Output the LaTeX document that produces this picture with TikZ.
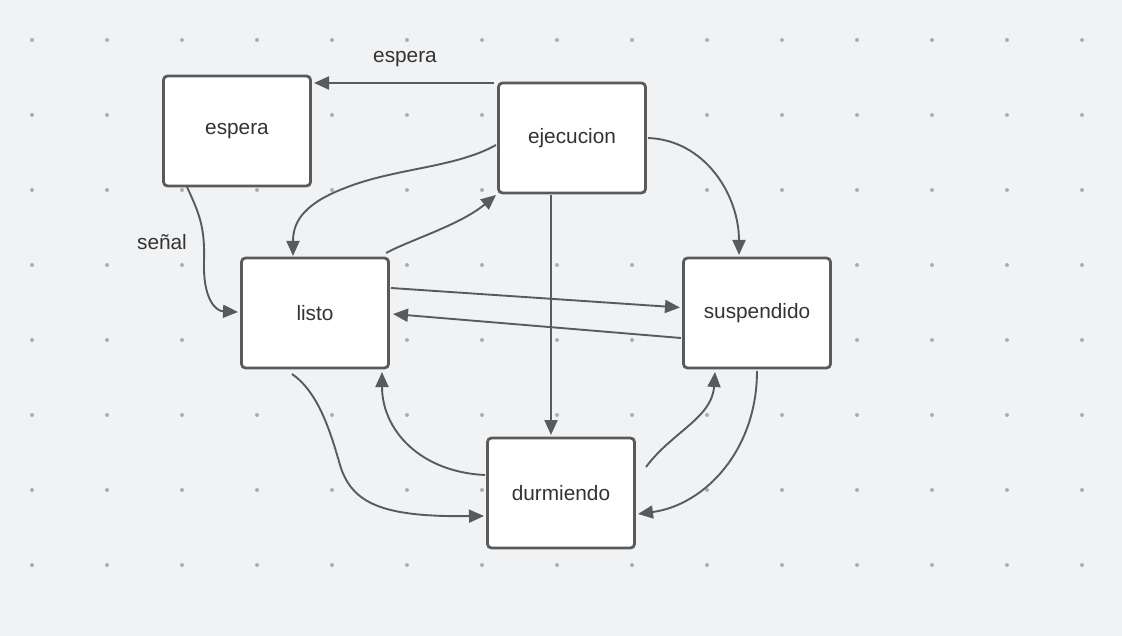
\documentclass[tikz,border=0pt]{standalone}
\usepackage{fontspec}
\setmainfont{Liberation Sans}
\usetikzlibrary{arrows.meta,calc}
\definecolor{bg}{HTML}{F1F2F4}
\definecolor{dotc}{HTML}{ABADB1}
\definecolor{linec}{HTML}{595A5C}
\definecolor{txt}{HTML}{333333}
\begin{document}
\begin{tikzpicture}[x=1pt,y=-1pt,
  state/.style={draw=linec,fill=white,line width=2.8pt,rounded corners=4pt,
    minimum width=147pt,minimum height=110pt,inner sep=0pt,text=txt,
    font=\fontsize{20.8}{24}\selectfont},
  conn/.style={draw=linec,line width=1.9pt,-{Triangle[length=15pt,width=13pt]}},
  lbl/.style={text=txt,font=\fontsize{20.8}{24}\selectfont,inner sep=0pt}]
\fill[bg] (0,0) rectangle (1122,636);
\useasboundingbox (0,0) rectangle (1122,636);
\foreach \i in {0,...,14}{
  \foreach \j in {0,...,7}{
    \fill[dotc] (32+75*\i,40+75*\j) circle (2pt);
  }
}
\node[state] (espera) at (237,131) {espera};
\node[state] (ejec) at (572,138) {ejecucion};
\node[state] (listo) at (315,313) {listo};
\node[state] (susp) at (757,313) {suspendido};
\node[state] (durm) at (561,493) {durmiendo};
% 1 ejecucion -> espera
\draw[conn] ($(ejec)+(-78,-55)$) -- ($(espera)+(77,-48)$);
\node[lbl] (lesp) at (405,59.5) {espera};
% 2 espera -> listo (senal)
\draw[conn] ($(espera)+(-50,56)$) .. controls (200,215) and (205,228) .. (204,262)
  .. controls (203,298) and (215,311) .. ($(listo)+(-77,-1)$);
\node[lbl] (lsen) at (162,242) {señal};
% 3 ejecucion -> listo
\draw[conn] ($(ejec)+(-76,7)$) .. controls (455,168) and (395,168) .. (345,188)
  .. controls (300,205) and (293,225) .. ($(listo)+(-22,-57)$);
% 4 listo -> ejecucion
\draw[conn] ($(listo)+(71,-60)$) .. controls (410,240) and (460,225) .. ($(ejec)+(-76,57)$);
% 5 ejecucion -> suspendido
\draw[conn] ($(ejec)+(76,0)$) .. controls (705,140) and (739,195) .. ($(susp)+(-18,-58)$);
% 6 ejecucion -> durmiendo
\draw[conn] ($(ejec)+(-21,57)$) -- ($(durm)+(-10,-58)$);
% 7 listo -> suspendido
\draw[conn] ($(listo)+(76,-25)$) -- ($(susp)+(-77,-5.5)$);
% 8 suspendido -> listo
\draw[conn] ($(susp)+(-76,25)$) -- ($(listo)+(78,1)$);
% 9 listo -> durmiendo
\draw[conn] ($(listo)+(-23,61)$) .. controls (318,392) and (330,430) .. (340,465)
  .. controls (352,505) and (385,517) .. ($(durm)+(-77,23)$);
% 10 durmiendo -> listo
\draw[conn] ($(durm)+(-76,-18)$) .. controls (420,472) and (382,430) .. ($(listo)+(67,59)$);
% 11 durmiendo -> suspendido
\draw[conn] ($(durm)+(85,-26)$) .. controls (672,432) and (712,418) .. ($(susp)+(-42,59)$);
% 12 suspendido -> durmiendo
\draw[conn] ($(susp)+(0,58)$) .. controls (757,450) and (705,505) .. ($(durm)+(77,21)$);
\end{tikzpicture}
\end{document}
